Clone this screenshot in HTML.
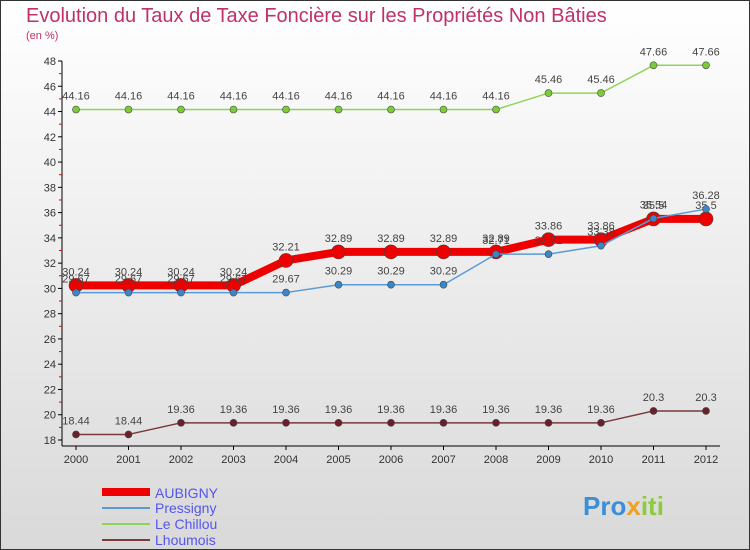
<!DOCTYPE html>
<html><head><meta charset="utf-8"><style>
body{margin:0;width:750px;height:550px;overflow:hidden;font-family:"Liberation Sans",sans-serif}
svg{display:block}
</style></head><body>
<svg width="750" height="550" xmlns="http://www.w3.org/2000/svg">
<defs><linearGradient id="bg" x1="0" y1="0" x2="0" y2="1"><stop offset="0" stop-color="#ffffff"/><stop offset="1" stop-color="#d9d9d9"/></linearGradient></defs>
<rect x="0.5" y="0.5" width="749" height="549" fill="url(#bg)" stroke="#333"/>
<text x="26" y="22" font-size="20" fill="#c0306a">Evolution du Taux de Taxe Foncière sur les Propriétés Non Bâties</text>
<text x="26" y="39" font-size="11" fill="#c0306a">(en %)</text>
<g id="axes"></g>
<g id="series"></g>
<g>
<line x1="102" y1="492" x2="150" y2="492" stroke="#e00" stroke-width="8"/><text x="155" y="498" font-size="14" fill="#5555ee">AUBIGNY</text>
<line x1="102" y1="508" x2="150" y2="508" stroke="#5b9bd5" stroke-width="2"/><text x="155" y="513" font-size="14" fill="#5555ee">Pressigny</text>
<line x1="102" y1="524" x2="150" y2="524" stroke="#8fd45a" stroke-width="2"/><text x="155" y="529" font-size="14" fill="#5555ee">Le Chillou</text>
<line x1="102" y1="540" x2="150" y2="540" stroke="#7a3a3a" stroke-width="2"/><text x="155" y="545" font-size="14" fill="#5555ee">Lhoumois</text>
</g>
<text x="583" y="515" font-size="26" font-weight="bold" fill="#3a8fd8">Pro<tspan fill="#f0a020">x</tspan><tspan fill="#8ccc3a">iti</tspan></text>
</svg>
<script>
const years=[2000,2001,2002,2003,2004,2005,2006,2007,2008,2009,2010,2011,2012];
const yTicks=[18,20,22,24,26,28,30,32,34,36,38,40,42,44,46,48];
const aubigny=[30.24,30.24,30.24,30.24,32.21,32.89,32.89,32.89,32.89,33.86,33.86,35.5,35.5];
const pressigny=[29.67,29.67,29.67,29.67,29.67,30.29,30.29,30.29,32.71,32.71,33.38,35.54,36.28];
const chillou=[44.16,44.16,44.16,44.16,44.16,44.16,44.16,44.16,44.16,45.46,45.46,47.66,47.66];
const lhoumois=[18.44,18.44,19.36,19.36,19.36,19.36,19.36,19.36,19.36,19.36,19.36,20.3,20.3];
const NS="http://www.w3.org/2000/svg";
const X=i=>76+i*52.5, Y=v=>440-(v-18)*(379/30);
function mk(t,a,p){const e=document.createElementNS(NS,t);for(const k in a)e.setAttribute(k,a[k]);p.appendChild(e);return e;}
const ax=document.getElementById('axes');
const yl=mk('line',{x1:62,y1:Y(48),x2:62,y2:446,stroke:'#000'},ax);


const xl=mk('line',{x1:62,y1:446,x2:720,y2:446,stroke:'#000'},ax);


yTicks.forEach(v=>{
 mk('line',{x1:58,y1:Y(v),x2:62,y2:Y(v),stroke:'#000'},ax);
 if(v<48)mk('line',{x1:59,y1:Y(v+1),x2:62,y2:Y(v+1),stroke:'#e00'},ax);
 const t=mk('text',{x:56,y:Y(v)+4,'font-size':11,fill:'#333','text-anchor':'end'},ax);t.textContent=v;
 
 
});
years.forEach((y,i)=>{
 mk('line',{x1:X(i),y1:446,x2:X(i),y2:450,stroke:'#000'},ax);
 const t=mk('text',{x:X(i),y:463,'font-size':11,fill:'#333','text-anchor':'middle'},ax);t.textContent=y;
 
 
});
const sg=document.getElementById('series');
function series(vals,color,w,r,name,fill){
 const g=mk('g',{},sg);
 
 
 mk('polyline',{points:vals.map((v,i)=>X(i)+','+Y(v)).join(' '),fill:'none',stroke:color,'stroke-width':w,'stroke-linejoin':'round'},g);
 vals.forEach((v,i)=>{
  const c=mk('circle',{cx:X(i),cy:Y(v),r:r,fill:fill,stroke:'#444','stroke-width':0.6},g);
  
  
  const t=mk('text',{x:X(i),y:Y(v)-10,'font-size':11,fill:'#444','text-anchor':'middle'},g);t.textContent=v;
 });
}
series(lhoumois,'#7a3a3a',1.5,3.5,'lhoumois-line','#6b1f2a');
series(chillou,'#8fd45a',1.5,3.5,'le-chillou-line','#7ccc3a');
series(aubigny,'#e00',8,7,'aubigny-line','#e00');
series(pressigny,'#5b9bd5',1.5,3.5,'pressigny-line','#3a86c8');
</script>
</body></html>
